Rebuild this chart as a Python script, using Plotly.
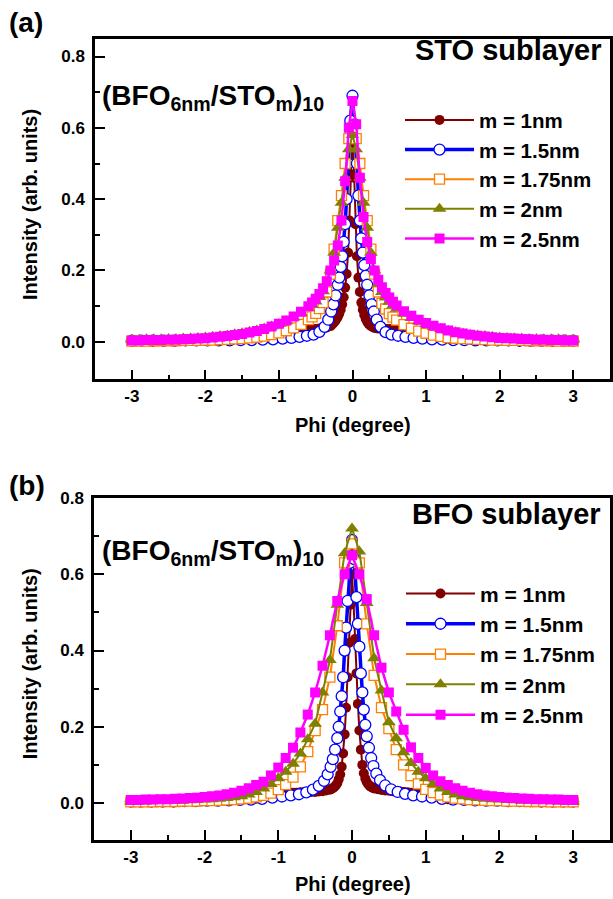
import plotly.graph_objects as go

W, H = 613, 899
FONT = "Liberation Sans, Arial, Helvetica, sans-serif"

# ---------------- data ----------------
SERIES = ["m = 1nm", "m = 1.5nm", "m = 1.75nm", "m = 2nm", "m = 2.5nm"]
PANEL_LABELS = ["(a)", "(b)"]
PANEL_TITLES = ["STO sublayer", "BFO sublayer"]
SAMPLE_LABEL = "(BFO<sub>6nm</sub>/STO<sub>m</sub>)<sub>10</sub>"
X_TITLE = "Phi (degree)"
Y_TITLE = "Intensity (arb. units)"
X_TICKS = [-3, -2, -1, 0, 1, 2, 3]
X_TICKTEXT = ["-3", "-2", "-1", "0", "1", "2", "3"]
X_MINOR = [-2.5, -1.5, -0.5, 0.5, 1.5, 2.5]
Y_TICKS = [0.0, 0.2, 0.4, 0.6, 0.8]
Y_TICKTEXT = ["0.0", "0.2", "0.4", "0.6", "0.8"]
Y_MINOR = [0.1, 0.3, 0.5, 0.7]

# x grid for m = 1nm
X_RED = [-3.0, -2.9, -2.8, -2.7, -2.6, -2.5, -2.4, -2.3, -2.2, -2.1, -2.0, -1.9, -1.8, -1.7, -1.6,
         -1.5, -1.4, -1.3, -1.2, -1.1, -1.0,
         -0.95, -0.9, -0.85, -0.8, -0.75, -0.7, -0.65, -0.6, -0.55, -0.5, -0.45, -0.4, -0.35, -0.3,
         -0.28, -0.26, -0.24, -0.22, -0.2, -0.18, -0.16, -0.14, -0.12, -0.1, -0.08, -0.06, -0.04, -0.02,
         0.0, 0.02, 0.04, 0.06, 0.08, 0.1, 0.12, 0.14, 0.16, 0.18, 0.2, 0.22, 0.24, 0.26, 0.28,
         0.3, 0.35, 0.4, 0.45, 0.5, 0.55, 0.6, 0.65, 0.7, 0.75, 0.8, 0.85, 0.9, 0.95,
         1.0, 1.1, 1.2, 1.3, 1.4, 1.5, 1.6, 1.7, 1.8, 1.9, 2.0, 2.1, 2.2, 2.3, 2.4, 2.5, 2.6, 2.7,
         2.8, 2.9, 3.0]
# x grid for m = 1.5nm
X_BLUE = [-3.0, -2.87, -2.72, -2.57, -2.42, -2.27, -2.12, -1.97, -1.82, -1.67, -1.52, -1.37, -1.22,
          -1.08, -0.95, -0.83, -0.72, -0.62, -0.53, -0.45, -0.38, -0.33, -0.29, -0.26, -0.23, -0.2,
          -0.18, -0.16, -0.14, -0.12, -0.1, -0.08, -0.06, -0.03, 0.0,
          0.03, 0.06, 0.08, 0.1, 0.12, 0.14, 0.16, 0.18, 0.2, 0.23, 0.26, 0.29, 0.33, 0.38, 0.45,
          0.53, 0.62, 0.72, 0.83, 0.95, 1.08, 1.22, 1.37, 1.52, 1.67, 1.82, 1.97, 2.12, 2.27, 2.42,
          2.57, 2.72, 2.87, 3.0]
# x grid for broad series, panel (a)
X_TOP_BROAD = [-3.0, -2.9, -2.8, -2.7, -2.6, -2.5, -2.4, -2.3, -2.2, -2.1, -2.0, -1.9, -1.8, -1.7,
               -1.6, -1.5, -1.4, -1.3, -1.2, -1.1, -1.0, -0.9, -0.8, -0.7, -0.6,
               -0.55, -0.5, -0.45, -0.4, -0.35, -0.3, -0.25, -0.2, -0.15, -0.1, -0.05, 0.0,
               0.05, 0.1, 0.15, 0.2, 0.25, 0.3, 0.35, 0.4, 0.45, 0.5, 0.55,
               0.6, 0.7, 0.8, 0.9, 1.0, 1.1, 1.2, 1.3, 1.4, 1.5, 1.6, 1.7, 1.8, 1.9, 2.0, 2.1, 2.2,
               2.3, 2.4, 2.5, 2.6, 2.7, 2.8, 2.9, 3.0]
# x grid for broad series, panel (b)
X_BOT_BROAD = [-3.0, -2.9, -2.8, -2.7, -2.6, -2.5, -2.4, -2.3, -2.2, -2.1, -2.0, -1.9, -1.8, -1.7,
               -1.6, -1.5, -1.4, -1.3, -1.2, -1.1, -1.0, -0.9, -0.8, -0.7, -0.6, -0.5, -0.4, -0.3,
               -0.2, -0.1, 0.0, 0.1, 0.2, 0.3, 0.4, 0.5, 0.6, 0.7, 0.8, 0.9, 1.0, 1.1, 1.2, 1.3, 1.4,
               1.5, 1.6, 1.7, 1.8, 1.9, 2.0, 2.1, 2.2, 2.3, 2.4, 2.5, 2.6, 2.7, 2.8, 2.9, 3.0]

# ---- panel (a): STO sublayer ----
STO_M1 = [0.003, 0.003, 0.003, 0.003, 0.004, 0.004, 0.004, 0.004, 0.005, 0.005, 0.005, 0.006, 0.006,
          0.007, 0.007, 0.008, 0.009, 0.010, 0.012, 0.015, 0.020,
          0.024, 0.028, 0.031, 0.033, 0.034, 0.035, 0.035, 0.036, 0.036, 0.036, 0.037, 0.038, 0.040, 0.044,
          0.048, 0.052, 0.057, 0.063, 0.070, 0.079, 0.090, 0.105, 0.125, 0.152, 0.19, 0.25, 0.34, 0.47,
          0.60, 0.46, 0.33, 0.24, 0.18, 0.14, 0.11, 0.09, 0.075, 0.064, 0.056, 0.050, 0.046, 0.043, 0.041,
          0.039, 0.037, 0.036, 0.036, 0.036, 0.035, 0.035, 0.035, 0.034, 0.033, 0.031, 0.028, 0.025, 0.022,
          0.019, 0.014, 0.011, 0.009, 0.008, 0.007, 0.006, 0.006, 0.005, 0.005, 0.005, 0.004, 0.004,
          0.004, 0.004, 0.003, 0.003, 0.003, 0.003, 0.003, 0.003]
STO_M15 = [0.003, 0.003, 0.003, 0.003, 0.003, 0.004, 0.004, 0.004, 0.004, 0.004, 0.005, 0.005, 0.006,
           0.007, 0.009, 0.011, 0.014, 0.017, 0.02, 0.028, 0.042, 0.062, 0.085, 0.105, 0.13, 0.16,
           0.18, 0.21, 0.24, 0.28, 0.33, 0.40, 0.50, 0.62, 0.69,
           0.61, 0.50, 0.41, 0.34, 0.29, 0.25, 0.215, 0.185, 0.16, 0.13, 0.105, 0.085, 0.062, 0.042,
           0.027, 0.02, 0.017, 0.014, 0.011, 0.009, 0.007, 0.006, 0.005, 0.005, 0.004, 0.004, 0.004,
           0.004, 0.003, 0.003, 0.003, 0.003, 0.003, 0.003]
STO_M175 = [0.002, 0.002, 0.002, 0.003, 0.003, 0.003, 0.003, 0.004, 0.004, 0.004, 0.005, 0.005, 0.006,
            0.007, 0.008, 0.009, 0.011, 0.013, 0.016, 0.020, 0.025, 0.031, 0.039, 0.049, 0.062,
            0.070, 0.080, 0.093, 0.11, 0.14, 0.19, 0.26, 0.34, 0.41, 0.50, 0.57, 0.60,
            0.57, 0.50, 0.41, 0.34, 0.26, 0.19, 0.14, 0.108, 0.092, 0.079, 0.069,
            0.061, 0.048, 0.038, 0.030, 0.024, 0.019, 0.015, 0.012, 0.010, 0.009, 0.008, 0.007, 0.006,
            0.005, 0.005, 0.004, 0.004, 0.004, 0.003, 0.003, 0.003, 0.003, 0.002, 0.002, 0.002]
STO_M2 = [0.006, 0.006, 0.007, 0.007, 0.007, 0.008, 0.008, 0.009, 0.010, 0.011, 0.012, 0.014, 0.016,
          0.018, 0.021, 0.024, 0.028, 0.032, 0.037, 0.043, 0.050, 0.058, 0.068, 0.080, 0.094,
          0.103, 0.113, 0.126, 0.142, 0.165, 0.20, 0.25, 0.32, 0.39, 0.46, 0.54, 0.58,
          0.54, 0.46, 0.39, 0.32, 0.25, 0.20, 0.163, 0.14, 0.124, 0.112, 0.102,
          0.093, 0.079, 0.067, 0.057, 0.049, 0.042, 0.036, 0.031, 0.027, 0.023, 0.020, 0.018, 0.016,
          0.014, 0.012, 0.011, 0.010, 0.009, 0.008, 0.008, 0.007, 0.007, 0.007, 0.006, 0.006]
STO_M25 = [0.004, 0.004, 0.005, 0.005, 0.005, 0.006, 0.006, 0.007, 0.008, 0.009, 0.010, 0.012, 0.014,
           0.016, 0.019, 0.022, 0.026, 0.030, 0.036, 0.043, 0.051, 0.060, 0.071, 0.084, 0.100,
           0.110, 0.121, 0.134, 0.150, 0.170, 0.20, 0.228, 0.27, 0.34, 0.45, 0.60, 0.675,
           0.61, 0.46, 0.35, 0.28, 0.232, 0.20, 0.174, 0.153, 0.137, 0.124, 0.112,
           0.102, 0.086, 0.073, 0.062, 0.053, 0.045, 0.038, 0.032, 0.027, 0.023, 0.020, 0.017, 0.015,
           0.013, 0.011, 0.010, 0.009, 0.008, 0.007, 0.006, 0.006, 0.005, 0.005, 0.004, 0.004]

# ---- panel (b): BFO sublayer ----
BFO_M1 = [0.004, 0.004, 0.004, 0.004, 0.005, 0.005, 0.005, 0.005, 0.006, 0.006, 0.006, 0.007, 0.007,
          0.008, 0.008, 0.009, 0.010, 0.011, 0.013, 0.016, 0.020,
          0.023, 0.025, 0.026, 0.027, 0.027, 0.028, 0.028, 0.028, 0.029, 0.029, 0.030, 0.031, 0.033, 0.035,
          0.037, 0.039, 0.042, 0.046, 0.052, 0.062, 0.075, 0.095, 0.13, 0.18, 0.25, 0.33, 0.42, 0.52,
          0.60, 0.53, 0.43, 0.34, 0.26, 0.19, 0.14, 0.10, 0.078, 0.064, 0.055, 0.049, 0.045, 0.042, 0.040,
          0.038, 0.036, 0.034, 0.033, 0.032, 0.031, 0.030, 0.030, 0.029, 0.028, 0.027, 0.026, 0.024, 0.022,
          0.019, 0.015, 0.012, 0.010, 0.009, 0.008, 0.007, 0.007, 0.006, 0.006, 0.006, 0.005, 0.005,
          0.005, 0.005, 0.004, 0.004, 0.004, 0.004, 0.004, 0.004]
BFO_M15 = [0.004, 0.004, 0.004, 0.004, 0.004, 0.005, 0.005, 0.006, 0.006, 0.007, 0.008, 0.009, 0.011,
           0.014, 0.017, 0.02, 0.023, 0.028, 0.035, 0.045, 0.058, 0.075, 0.095, 0.115, 0.14, 0.17,
           0.20, 0.24, 0.28, 0.33, 0.40, 0.46, 0.53, 0.63, 0.69,
           0.64, 0.54, 0.47, 0.41, 0.34, 0.29, 0.245, 0.205, 0.175, 0.145, 0.118, 0.097, 0.077, 0.06,
           0.046, 0.036, 0.029, 0.024, 0.02, 0.017, 0.014, 0.011, 0.009, 0.008, 0.007, 0.006, 0.006,
           0.005, 0.005, 0.005, 0.004, 0.004, 0.004, 0.004]
BFO_M175 = [0.003, 0.003, 0.003, 0.003, 0.004, 0.004, 0.004, 0.005, 0.005, 0.005,
            0.006, 0.006, 0.007, 0.008, 0.009, 0.011, 0.013, 0.016, 0.020, 0.026,
            0.035, 0.048, 0.068, 0.095, 0.135, 0.19, 0.245, 0.33, 0.465, 0.63,
            0.68,
            0.63, 0.47, 0.335, 0.25, 0.195, 0.14, 0.10, 0.072, 0.05, 0.036,
            0.027, 0.021, 0.016, 0.013, 0.011, 0.009, 0.008, 0.007, 0.006, 0.006,
            0.005, 0.005, 0.005, 0.004, 0.004, 0.004, 0.003, 0.003, 0.003, 0.003]
BFO_M2 = [0.004, 0.004, 0.004, 0.005, 0.005, 0.005, 0.006, 0.006, 0.007, 0.008,
          0.009, 0.010, 0.011, 0.013, 0.015, 0.018, 0.022, 0.029, 0.038, 0.05,
          0.065, 0.082, 0.103, 0.13, 0.167, 0.208, 0.29, 0.375, 0.52, 0.655,
          0.72,
          0.66, 0.525, 0.38, 0.295, 0.212, 0.17, 0.133, 0.105, 0.082, 0.065,
          0.05, 0.038, 0.029, 0.022, 0.018, 0.015, 0.013, 0.011, 0.010, 0.009,
          0.008, 0.007, 0.006, 0.006, 0.005, 0.005, 0.005, 0.004, 0.004, 0.004]
BFO_M25 = [0.008, 0.008, 0.009, 0.009, 0.010, 0.010, 0.011, 0.012, 0.013, 0.014,
           0.016, 0.018, 0.020, 0.023, 0.027, 0.032, 0.039, 0.047, 0.056, 0.072,
           0.093, 0.118, 0.145, 0.185, 0.232, 0.29, 0.36, 0.44, 0.53, 0.60,
           0.65,
           0.60, 0.535, 0.44, 0.355, 0.29, 0.24, 0.192, 0.146, 0.118, 0.092,
           0.072, 0.057, 0.047, 0.039, 0.032, 0.027, 0.023, 0.020, 0.018, 0.016,
           0.014, 0.013, 0.012, 0.011, 0.010, 0.010, 0.009, 0.009, 0.008, 0.008]

PANEL_X = [
    [X_RED, X_BLUE, X_TOP_BROAD, X_TOP_BROAD, X_TOP_BROAD],
    [X_RED, X_BLUE, X_BOT_BROAD, X_BOT_BROAD, X_BOT_BROAD],
]
PANEL_Y = [
    [STO_M1, STO_M15, STO_M175, STO_M2, STO_M25],
    [BFO_M1, BFO_M15, BFO_M175, BFO_M2, BFO_M25],
]

# ---------------- styles ----------------
COLORS = ["#800000", "#0000FF", "#FF8000", "#808000", "#FF00FF"]
STYLES = [
    dict(symbol="circle", size=10, fill="#800000", lw=0, line=2),
    dict(symbol="circle", size=11, fill="white", lw=1.3, line=3.5),
    dict(symbol="square", size=10, fill="white", lw=1.3, line=2),
    dict(symbol="triangle-up", size=12, fill="#808000", lw=0, line=2),
    dict(symbol="square", size=10, fill="#FF00FF", lw=0, line=2.5),
]


def px(x):
    return x / W


def py(y):
    return 1 - y / H


fig = go.Figure()
axes = [("x", "y", "legend"), ("x2", "y2", "legend2")]
for p, (xa, ya, lg) in enumerate(axes):
    for i, name in enumerate(SERIES):
        st = STYLES[i]
        fig.add_trace(go.Scatter(
            x=PANEL_X[p][i], y=PANEL_Y[p][i], name=name, mode="lines+markers",
            xaxis=xa, yaxis=ya, legend=lg,
            line=dict(color=COLORS[i], width=st["line"]),
            marker=dict(symbol=st["symbol"], size=st["size"], color=st["fill"],
                        line=dict(color=COLORS[i], width=st["lw"])),
        ))

tickfont = dict(family=FONT, size=17, color="black", weight="bold")


def xaxis(domain, anchor):
    return dict(domain=domain, anchor=anchor, range=[-3.5, 3.5], showgrid=False, zeroline=False,
                showline=True, linewidth=2.5, linecolor="black", mirror=True,
                ticks="inside", ticklen=10, tickwidth=2, tickcolor="black",
                tickvals=X_TICKS, ticktext=X_TICKTEXT, tickfont=tickfont, ticklabelstandoff=0,
                minor=dict(ticks="inside", ticklen=5, tickwidth=2, tickcolor="black", tickvals=X_MINOR))


def yaxis(domain, anchor, rng):
    return dict(domain=domain, anchor=anchor, range=rng, showgrid=False, zeroline=False,
                showline=True, linewidth=2.5, linecolor="black", mirror=True,
                ticks="inside", ticklen=10, tickwidth=2, tickcolor="black",
                tickvals=Y_TICKS, ticktext=Y_TICKTEXT, tickfont=tickfont, ticklabelstandoff=4,
                minor=dict(ticks="inside", ticklen=5, tickwidth=2, tickcolor="black", tickvals=Y_MINOR))


def legend_style(size):
    return dict(font=dict(family=FONT, size=size, color="black", weight="bold"),
                bgcolor="rgba(0,0,0,0)", borderwidth=0, itemwidth=69,
                xanchor="left", yanchor="top", tracegroupgap=0)


fig.update_layout(
    width=W, height=H, margin=dict(l=0, r=0, t=0, b=0),
    paper_bgcolor="white", plot_bgcolor="white",
    font=dict(family=FONT, color="black"),
    xaxis=xaxis([px(95), px(610)], "y"),
    yaxis=yaxis([py(374), py(30)], "x", [-0.105, 0.85]),
    xaxis2=xaxis([px(94), px(610)], "y2"),
    yaxis2=yaxis([py(839), py(494)], "x2", [-0.096, 0.8]),
    legend=dict(x=px(400), y=py(92), **legend_style(20.5)),
    legend2=dict(x=px(401), y=py(570), **legend_style(21)),
)

bold = dict(family=FONT, color="black", weight="bold")
ann = []
# panel geometry (pixel positions of text)
panel_text = [
    dict(lab_y=14, title_y=41, sample_y=89, ytitle_y=198, xtitle_y=420),
    dict(lab_y=481, title_y=510, sample_y=549, ytitle_y=662, xtitle_y=884),
]
for p, g in enumerate(panel_text):
    ann.append(dict(text=PANEL_LABELS[p], x=px(7), y=py(g["lab_y"]), xanchor="left", yanchor="middle",
                    showarrow=False, xref="paper", yref="paper", font=dict(size=28, **bold)))
    ann.append(dict(text=PANEL_TITLES[p], x=px(603), y=py(g["title_y"]), xanchor="right",
                    yanchor="middle", showarrow=False, xref="paper", yref="paper",
                    font=dict(size=29, **bold)))
    ann.append(dict(text=SAMPLE_LABEL, x=px(100), y=py(g["sample_y"]), xanchor="left",
                    yanchor="middle", showarrow=False, xref="paper", yref="paper",
                    font=dict(size=28, **bold)))
    ann.append(dict(text=Y_TITLE, x=px(30), y=py(g["ytitle_y"]), xanchor="center", yanchor="middle",
                    textangle=-90, showarrow=False, xref="paper", yref="paper",
                    font=dict(size=20, **bold)))
    ann.append(dict(text=X_TITLE, x=px(353), y=py(g["xtitle_y"]), xanchor="center", yanchor="middle",
                    showarrow=False, xref="paper", yref="paper", font=dict(size=20, **bold)))
fig.update_layout(annotations=ann)

fig.write_html("out.html")
